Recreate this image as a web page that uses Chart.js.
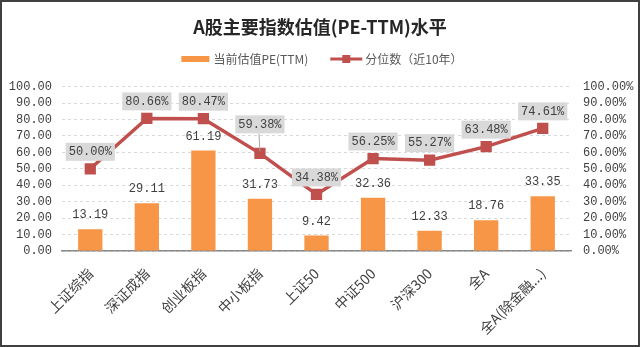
<!DOCTYPE html>
<html>
<head>
<meta charset="utf-8">
<script src="https://cdn.jsdelivr.net/npm/chart.js@4.4.0/dist/chart.umd.min.js"></script>
<style>
  body { margin: 0; background: #fff; }
  #wrap { width: 640px; height: 347px; position: relative; }
</style>
</head>
<body>
<div id="wrap"><canvas id="myChart"></canvas></div>
<script>
const categories = ["上证综指", "深证成指", "创业板指", "中小板指", "上证50", "中证500", "沪深300", "全A", "全A(除金融...)"];
const peValues = [13.19, 29.11, 61.19, 31.73, 9.42, 32.36, 12.33, 18.76, 33.35];
const percentiles = [50.00, 80.66, 80.47, 59.38, 34.38, 56.25, 55.27, 63.48, 74.61];
const leftTicks = [0, 100, 10];   // min, max, step
const rightTicks = [0, 100, 10];

const numFont = '"Liberation Mono", "Noto Sans CJK SC", monospace';
const cjkFont = '"Noto Sans CJK SC", "Liberation Mono", sans-serif';
const orange = '#F79646';
const red = '#C0504D';

// labels, legend and frame drawn by hand
const extras = {
  id: 'extras',
  beforeDraw(chart) {
    const c = chart.ctx;
    c.save();
    c.fillStyle = '#fff';
    c.fillRect(0, 0, chart.width, chart.height);
    c.restore();
  },
  afterDraw(chart) {
    const c = chart.ctx;
    c.save();

    // legend
    c.font = '12px ' + cjkFont;
    c.textBaseline = 'middle';
    const t1 = '当前估值PE(TTM)';
    const t2 = '分位数（近10年）';
    const w1 = c.measureText(t1).width;
    const w2 = c.measureText(t2).width;
    const total = 28 + 4 + w1 + 22 + 32 + 3 + w2;
    let lx = chart.width / 2 - total / 2 + 2;
    const ly = 59;
    c.fillStyle = orange;
    c.fillRect(lx, ly - 3, 28, 6);
    lx += 32;
    c.fillStyle = '#595959';
    c.fillText(t1, lx, ly);
    lx += w1 + 22;
    c.strokeStyle = red;
    c.lineWidth = 3;
    c.beginPath();
    c.moveTo(lx, ly);
    c.lineTo(lx + 32, ly);
    c.stroke();
    c.fillStyle = red;
    c.fillRect(lx + 12, ly - 4, 8, 8);
    lx += 35;
    c.fillStyle = '#595959';
    c.fillText(t2, lx, ly);

    // bar value labels
    c.font = '12px ' + numFont;
    c.textAlign = 'center';
    c.fillStyle = '#404040';
    chart.getDatasetMeta(0).data.forEach((bar, i) => {
      c.fillText(peValues[i].toFixed(2), bar.x, bar.y - 14);
    });

    // percentile labels in grey boxes
    chart.getDatasetMeta(1).data.forEach((pt, i) => {
      const txt = percentiles[i].toFixed(2) + '%';
      const tw = c.measureText(txt).width;
      const lift = i === 3 ? 29 : 17;
      const bx = pt.x - tw / 2 - 3;
      const by = pt.y - lift - 9;
      if (i === 3) {
        c.strokeStyle = '#A6A6A6';
        c.lineWidth = 1;
        c.beginPath();
        c.moveTo(pt.x - 1, by + 18);
        c.lineTo(pt.x, pt.y - 2);
        c.stroke();
      }
      c.fillStyle = '#D9D9D9';
      c.fillRect(bx, by, tw + 6, 18);
      c.fillStyle = '#404040';
      c.fillText(txt, pt.x, pt.y - lift);
    });

    // frame
    c.strokeStyle = '#404040';
    c.lineWidth = 2;
    c.strokeRect(1, 1, chart.width - 2, chart.height - 2);
    c.restore();
  }
};

const ctx = document.getElementById('myChart').getContext('2d');
const myChart = new Chart(ctx, {
  type: 'bar',
  data: {
    labels: categories,
    datasets: [
      {
        label: '当前估值PE(TTM)',
        data: peValues,
        backgroundColor: orange,
        barPercentage: 0.43,
        categoryPercentage: 1,
        yAxisID: 'y',
        order: 1
      },
      {
        type: 'line',
        label: '分位数（近10年）',
        data: percentiles,
        borderColor: red,
        backgroundColor: red,
        borderWidth: 3.5,
        pointStyle: 'rect',
        pointRadius: 5.5,
        yAxisID: 'y1',
        order: 0
      }
    ]
  },
  options: {
    responsive: true,
    maintainAspectRatio: false,
    animation: false,
    layout: { padding: 0 },
    plugins: {
      legend: { display: false },
      tooltip: { enabled: false },
      title: {
        display: true,
        text: 'A股主要指数估值(PE-TTM)水平',
        color: '#262626',
        font: { family: cjkFont, size: 18, weight: 'bold', lineHeight: 1.2 },
        padding: { top: 16, bottom: 49 }
      }
    },
    scales: {
      x: {
        grid: { display: false },
        border: { display: true, color: '#898989', width: 1.5 },
        ticks: {
          color: '#404040',
          font: { family: cjkFont, size: 14 },
          maxRotation: 45,
          minRotation: 45,
          autoSkip: false,
          padding: 6
        },
        afterFit(scale) { scale.height = 96; }
      },
      y: {
        position: 'left',
        min: leftTicks[0],
        max: leftTicks[1],
        grid: { color: '#D9D9D9', drawTicks: false },
        border: { display: false, dash: [3, 3] },
        ticks: {
          stepSize: leftTicks[2],
          autoSkip: false,
          color: '#404040',
          font: { family: numFont, size: 12 },
          padding: 10,
          callback: (v) => v.toFixed(2)
        },
        afterFit(scale) { scale.width = 62; }
      },
      y1: {
        position: 'right',
        min: rightTicks[0],
        max: rightTicks[1],
        grid: { display: false, drawTicks: false },
        border: { display: false },
        ticks: {
          stepSize: rightTicks[2],
          autoSkip: false,
          color: '#404040',
          font: { family: numFont, size: 12 },
          padding: 12,
          callback: (v) => v.toFixed(2) + '%'
        },
        afterFit(scale) { scale.width = 69; }
      }
    }
  },
  plugins: [extras]
});
</script>
</body>
</html>
